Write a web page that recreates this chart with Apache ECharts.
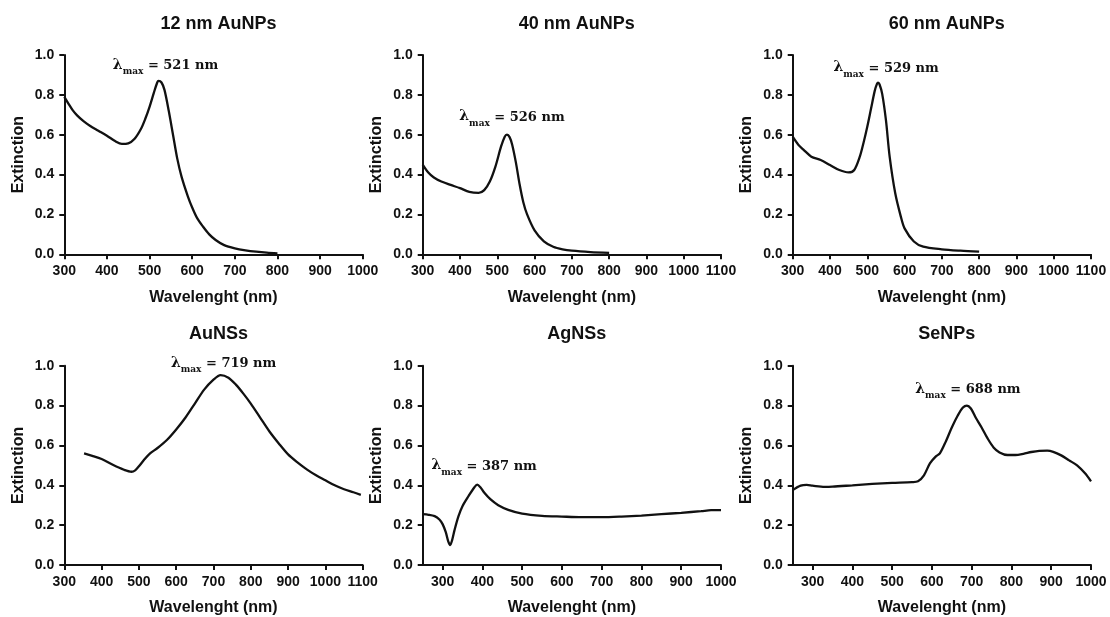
<!DOCTYPE html>
<html>
<head>
<meta charset="utf-8">
<script src="https://cdn.jsdelivr.net/npm/echarts@6/dist/echarts.min.js"></script>
<style>
html,body{margin:0;padding:0;background:#fff;}
#chart{width:1110px;height:617px;}
</style>
</head>
<body>
<div id="chart"></div>
<script>
// ---------- data ----------
const titles = ['12 nm AuNPs', '40 nm AuNPs', '60 nm AuNPs', 'AuNSs', 'AgNSs', 'SeNPs'];
const lambdaMax = [521, 526, 529, 719, 387, 688];

const wl12 = [300,310,320,330,345,360,380,400,420,435,450,465,480,490,500,510,518,521,528,535,545,555,565,575,590,600,612,625,640,655,675,700,725,750,775,800];
const ext12 = [0.79,0.755,0.722,0.697,0.668,0.645,0.62,0.595,0.567,0.554,0.557,0.58,0.63,0.68,0.74,0.81,0.862,0.87,0.862,0.825,0.72,0.6,0.48,0.39,0.29,0.235,0.18,0.14,0.1,0.072,0.046,0.03,0.02,0.013,0.008,0.005];

const wl40 = [300,315,330,350,375,400,425,450,465,480,495,510,520,526,533,540,550,560,570,580,600,625,650,675,700,750,800];
const ext40 = [0.45,0.41,0.385,0.365,0.348,0.332,0.313,0.308,0.322,0.365,0.44,0.54,0.59,0.6,0.588,0.55,0.46,0.35,0.26,0.2,0.12,0.065,0.038,0.025,0.018,0.011,0.007];

const wl60 = [300,315,330,350,375,400,425,450,465,480,490,500,510,520,526,529,533,540,550,560,575,590,600,625,650,700,750,800];
const ext60 = [0.59,0.55,0.523,0.49,0.473,0.448,0.423,0.411,0.423,0.49,0.56,0.64,0.73,0.82,0.855,0.861,0.852,0.805,0.674,0.49,0.306,0.189,0.13,0.064,0.038,0.025,0.018,0.013];

const wlNS = [353,375,400,430,460,480,490,500,515,530,550,575,600,625,650,675,700,719,740,760,780,800,825,850,875,900,925,950,975,1000,1025,1050,1075,1095];
const extNS = [0.56,0.548,0.532,0.503,0.478,0.468,0.475,0.495,0.53,0.56,0.587,0.627,0.68,0.74,0.81,0.88,0.93,0.953,0.94,0.905,0.86,0.81,0.74,0.67,0.61,0.555,0.515,0.48,0.45,0.425,0.4,0.38,0.365,0.352];

const wlAg = [250,265,280,292,300,308,314,319,324,330,340,350,365,380,387,395,405,420,440,465,500,550,600,650,700,750,800,850,900,950,975,1000];
const extAg = [0.255,0.252,0.245,0.228,0.205,0.165,0.12,0.1,0.125,0.175,0.245,0.295,0.345,0.39,0.403,0.39,0.362,0.33,0.3,0.277,0.258,0.247,0.243,0.24,0.24,0.243,0.248,0.255,0.262,0.27,0.275,0.275];

const wlSe = [250,270,285,300,330,350,400,450,500,550,565,580,595,610,620,635,650,665,678,688,698,710,725,740,755,770,790,810,830,850,870,890,905,925,945,965,985,1000];
const extSe = [0.376,0.398,0.402,0.398,0.392,0.393,0.4,0.407,0.412,0.416,0.42,0.45,0.51,0.545,0.56,0.62,0.69,0.75,0.79,0.8,0.785,0.74,0.69,0.635,0.59,0.565,0.552,0.552,0.558,0.567,0.573,0.574,0.568,0.55,0.525,0.5,0.46,0.42];

const xTicksA = [300,400,500,600,700,800,900,1000];

// ---------- layout ----------
const wls = [wl12, wl40, wl60, wlNS, wlAg, wlSe];
const exts = [ext12, ext40, ext60, extNS, extAg, extSe];
const xMins = [300, 300, 300, 300, 250, 250];
const xMaxs = [1000, 1100, 1100, 1100, 1000, 1000];
const lefts = [64.3, 422.7, 792.7];
const widths = [298.4, 298.3, 298.3];
const tops = [55, 365.7];
const H = 199.3;
const labelOffsets = [[7,-14],[5,-16],[8,-13],[3,-10],[7,-17],[1,-14]];

const sans = '"Liberation Sans", Arial, Helvetica, sans-serif';
const serif = '"DejaVu Serif", serif';
const grids = [], xAxes = [], yAxes = [], series = [], titleArr = [];

for (let i = 0; i < 6; i++) {
  const r = Math.floor(i / 3), c = i % 3;
  grids.push({ left: lefts[c], top: tops[r], width: widths[c], height: H, outerBoundsMode: 'none', containLabel: false });
  titleArr.push({
    text: titles[i],
    left: lefts[c] + widths[c] / 2, textAlign: 'center',
    top: r === 0 ? 10 : 320,
    textStyle: { fontFamily: sans, fontSize: 18, fontWeight: 'bold', color: '#111' }
  });
  const custom = xMins[i] === 250;
  xAxes.push({
    type: 'value', gridIndex: i, min: xMins[i], max: xMaxs[i], interval: custom ? undefined : 100,
    name: 'Wavelenght (nm)', nameLocation: 'middle', nameGap: 35,
    nameTextStyle: { fontFamily: sans, fontSize: 16, fontWeight: 'bold', color: '#111' },
    axisLine: { show: true, onZero: false, lineStyle: { color: '#111', width: 2 } },
    axisTick: Object.assign({ show: true, length: 5, lineStyle: { color: '#111', width: 2 } }, custom ? { customValues: xTicksA } : {}),
    axisLabel: Object.assign({ margin: 10, fontFamily: sans, fontSize: 14, fontWeight: 'bold', color: '#111', showMinLabel: true, showMaxLabel: true, formatter: v => String(v) }, custom ? { customValues: xTicksA } : {}),
    splitLine: { show: false }
  });
  yAxes.push({
    type: 'value', gridIndex: i, min: 0, max: 1, interval: 0.2,
    name: 'Extinction', nameLocation: 'middle', nameGap: 38, nameRotate: 90,
    nameTextStyle: { fontFamily: sans, fontSize: 16, fontWeight: 'bold', color: '#111' },
    axisLine: { show: true, lineStyle: { color: '#111', width: 2 } },
    axisTick: { show: true, length: 5, lineStyle: { color: '#111', width: 2 } },
    axisLabel: { margin: 10, fontFamily: sans, fontSize: 14, fontWeight: 'bold', color: '#111', formatter: v => v.toFixed(1) },
    splitLine: { show: false }
  });
  series.push({
    type: 'line', xAxisIndex: i, yAxisIndex: i,
    data: wls[i].map((w, k) => [w, exts[i][k]]),
    showSymbol: false, smooth: 0.3, clip: false,
    lineStyle: { color: '#111', width: 2.3 },
    silent: true, animation: false,
    markPoint: {
      silent: true, animation: false,
      symbol: 'circle', symbolSize: 1,
      itemStyle: { color: 'rgba(0,0,0,0)' },
      data: [{ type: 'max' }],
      label: {
        show: true, position: 'inside', offset: labelOffsets[i],
        formatter: () => '{l|λ}{s|max}{t| = ' + lambdaMax[i] + ' nm}',
        rich: {
          l: { fontFamily: serif, fontSize: 14, fontWeight: 'bold', color: '#111', verticalAlign: 'bottom', padding: [0, 0, 4, 0] },
          s: { fontFamily: serif, fontSize: 9, fontWeight: 'bold', color: '#111', verticalAlign: 'bottom', padding: [0, 0, 0, 0] },
          t: { fontFamily: serif, fontSize: 13, fontWeight: 'bold', color: '#111', verticalAlign: 'bottom', padding: [0, 0, 4, 0] }
        }
      }
    }
  });
}

const chart = echarts.init(document.getElementById('chart'), null, { renderer: 'canvas' });
chart.setOption({
  backgroundColor: '#fff',
  animation: false,
  title: titleArr,
  grid: grids,
  xAxis: xAxes,
  yAxis: yAxes,
  series: series
});
</script>
</body>
</html>
